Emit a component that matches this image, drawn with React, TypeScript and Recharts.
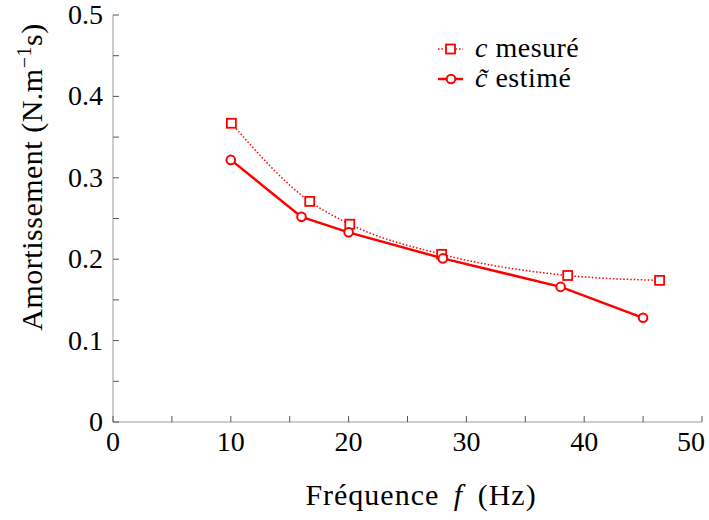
import { Line, LineChart, XAxis, YAxis } from "recharts"

// c mesuré (carrés, pointillés)
const measuredFreq = [10.05, 16.7, 20.1, 27.9, 38.6, 46.4]
const measuredDamping = [0.367, 0.271, 0.243, 0.206, 0.18, 0.174]

// c~ estimé (cercles, trait plein)
const estimatedFreq = [10.0, 16.0, 20.0, 28.0, 38.0, 45.0]
const estimatedDamping = [0.322, 0.252, 0.233, 0.201, 0.166, 0.128]

const xTicks = [0, 5, 10, 15, 20, 25, 30, 35, 40, 45, 50]
const xLabels = [0, 10, 20, 30, 40, 50]
const yTicks = [0, 0.05, 0.1, 0.15, 0.2, 0.25, 0.3, 0.35, 0.4, 0.45, 0.5]
const yLabels = [0, 0.1, 0.2, 0.3, 0.4, 0.5]

const measured = measuredFreq.map((f, i) => ({ f, c: measuredDamping[i] }))
const estimated = estimatedFreq.map((f, i) => ({ f, c: estimatedDamping[i] }))

const RED = "#ff0000"
const FONT = "'Liberation Serif', 'DejaVu Serif', serif"
const TICK = "#555"
const FRAME = "#999"
const TICK_LEN = 6

const isLabel = (v: number, labels: number[]) => labels.some((l) => Math.abs(l - v) < 1e-9)

const BottomTick = (props: any) => {
    const { x, y, payload } = props
    const last = payload.value === xLabels[xLabels.length - 1]
    return (
        <g>
            <line x1={x} y1={y} x2={x} y2={y - TICK_LEN} stroke={TICK} />
            {isLabel(payload.value, xLabels) && (
                <text
                    x={last ? x + 3 : x}
                    y={y + 29}
                    textAnchor={last ? "end" : "middle"}
                    style={{ fontFamily: FONT, fontSize: 28 }}
                    fill="#000"
                >
                    {payload.value}
                </text>
            )}
        </g>
    )
}

const TopTick = (props: any) => {
    const { x, y } = props
    return <line x1={x} y1={y} x2={x} y2={y + TICK_LEN} stroke={TICK} />
}

const LeftTick = (props: any) => {
    const { x, y, payload } = props
    return (
        <g>
            <line x1={x} y1={y} x2={x + TICK_LEN} y2={y} stroke={TICK} />
            {isLabel(payload.value, yLabels) && (
                <text x={x - 10} y={y + 9} textAnchor="end" style={{ fontFamily: FONT, fontSize: 28 }} fill="#000">
                    {String(payload.value)}
                </text>
            )}
        </g>
    )
}

const RightTick = (props: any) => {
    const { x, y } = props
    return <line x1={x} y1={y} x2={x - TICK_LEN} y2={y} stroke={TICK} />
}

const SquareDot = (props: any) => {
    const { cx, cy, index } = props
    return <rect key={`sq-${index}`} x={cx - 4.5} y={cy - 4.5} width={9} height={9} fill="#fff" stroke={RED} strokeWidth={1.8} />
}

const CircleDot = (props: any) => {
    const { cx, cy, index } = props
    return <circle key={`ci-${index}`} cx={cx} cy={cy} r={4.3} fill="#fff" stroke={RED} strokeWidth={2} />
}

const YLabel = () => (
    <text
        transform="rotate(-90, 42, 177)"
        x={42}
        y={177}
        textAnchor="middle"
        style={{ fontFamily: FONT, fontSize: 30, letterSpacing: 0.5 }}
        fill="#000"
    >
        Amortissement (N.m<tspan dy={-11} style={{ fontSize: 20 }}>−1</tspan>
        <tspan dy={11}>s)</tspan>
    </text>
)

const XLabel = () => (
    <text x={421} y={505} textAnchor="middle" style={{ fontFamily: FONT, fontSize: 30, letterSpacing: 1 }} fill="#000">
        Fréquence<tspan dx={6} style={{ fontStyle: "italic" }}> f</tspan>
        <tspan dx={6}> (Hz)</tspan>
    </text>
)

const LegendBox = () => (
    <svg width={200} height={70} style={{ position: "absolute", left: 435, top: 30 }}>
        <line x1={3} y1={19} x2={28} y2={19} stroke={RED} strokeWidth={1.5} strokeDasharray="1.5 2" />
        <rect x={11} y={14.5} width={9} height={9} fill="#fff" stroke={RED} strokeWidth={1.8} />
        <text x={40} y={27} style={{ fontFamily: FONT, fontSize: 28, letterSpacing: 0.5 }} fill="#000">
            <tspan style={{ fontStyle: "italic" }}>c</tspan> mesuré
        </text>
        <line x1={3} y1={49} x2={28} y2={49} stroke={RED} strokeWidth={2.5} />
        <circle cx={16} cy={49} r={4.3} fill="#fff" stroke={RED} strokeWidth={2} />
        <text x={40} y={57} style={{ fontFamily: FONT, fontSize: 28, letterSpacing: 0.5 }} fill="#000">
            <tspan style={{ fontStyle: "italic" }}>c&#771;</tspan> estimé
        </text>
    </svg>
)

const App = () => {
    return (
        <div style={{ position: "absolute", left: 0, top: 0, width: 709, height: 520, background: "#fff" }}>
            <LineChart width={709} height={520} margin={{ top: 15, right: 7, left: 0, bottom: 0 }}>
                <XAxis
                    xAxisId="bottom"
                    type="number"
                    dataKey="f"
                    domain={[0, 50]}
                    ticks={xTicks}
                    interval={0}
                    height={98}
                    stroke={FRAME}
                    tickLine={false}
                    tickSize={0}
                    tickMargin={0}
                    tick={BottomTick}
                    label={XLabel}
                />
                <XAxis
                    xAxisId="top"
                    orientation="top"
                    type="number"
                    dataKey="f"
                    domain={[0, 50]}
                    ticks={xTicks}
                    interval={0}
                    height={0}
                    stroke={FRAME}
                    tickLine={false}
                    tickSize={0}
                    tickMargin={0}
                    tick={TopTick}
                />
                <YAxis
                    yAxisId="left"
                    type="number"
                    domain={[0, 0.5]}
                    ticks={yTicks}
                    interval={0}
                    width={113}
                    stroke={FRAME}
                    tickLine={false}
                    tickSize={0}
                    tickMargin={0}
                    tick={LeftTick}
                    label={YLabel}
                />
                <YAxis
                    yAxisId="right"
                    orientation="right"
                    type="number"
                    domain={[0, 0.5]}
                    ticks={yTicks}
                    interval={0}
                    width={0}
                    stroke={FRAME}
                    tickLine={false}
                    tickSize={0}
                    tickMargin={0}
                    tick={RightTick}
                />
                <Line
                    xAxisId="bottom"
                    yAxisId="left"
                    data={measured}
                    dataKey="c"
                    name="c mesuré"
                    type="monotone"
                    stroke={RED}
                    strokeWidth={1.5}
                    strokeDasharray="1.5 2"
                    dot={SquareDot}
                    isAnimationActive={false}
                />
                <Line
                    xAxisId="bottom"
                    yAxisId="left"
                    data={estimated}
                    dataKey="c"
                    name="c estimé"
                    type="linear"
                    stroke={RED}
                    strokeWidth={2.5}
                    dot={CircleDot}
                    isAnimationActive={false}
                />
            </LineChart>
            <LegendBox />
        </div>
    )
}

export default App
